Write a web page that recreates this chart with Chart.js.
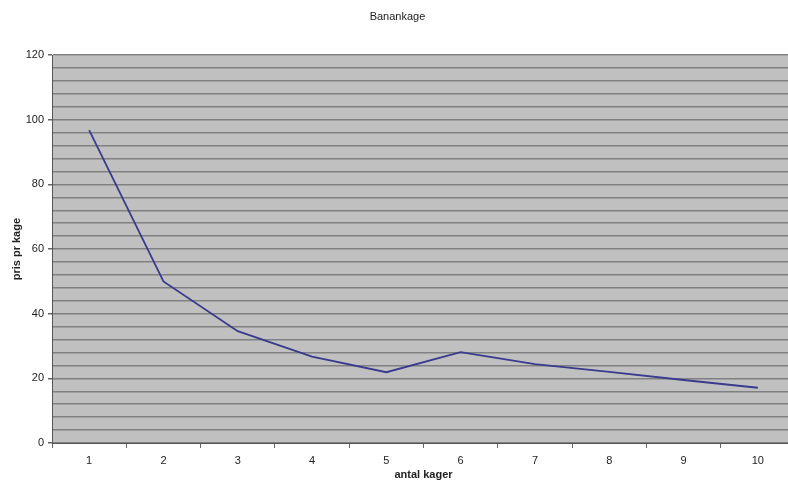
<!DOCTYPE html>
<html>
<head>
<meta charset="utf-8">
<script src="https://cdn.jsdelivr.net/npm/chart.js@4"></script>
<style>
  html, body { margin: 0; padding: 0; overflow: hidden; background: #fff; }
  #wrap { width: 795px; height: 486px; }
</style>
</head>
<body>
<div id="wrap"><canvas id="myChart"></canvas></div>
<script>
const antalKager = ["1", "2", "3", "4", "5", "6", "7", "8", "9", "10"];
const prisPrKage = [96.8, 50, 34.6, 26.7, 21.9, 28.1, 24.4, 22.0, 19.5, 17.1];
const yTickLabels = [0, 20, 40, 60, 80, 100, 120];

const ctx = document.getElementById("myChart");

// grey plot area like the old excel chart
const plotBg = {
  id: "plotBg",
  beforeDraw(chart) {
    const a = chart.chartArea;
    const c = chart.ctx;
    c.save();
    c.fillStyle = "#c0c0c0";
    c.fillRect(a.left, a.top, a.right - a.left, a.bottom - a.top);
    c.restore();
  },
};

new Chart(ctx, {
  type: "line",
  data: {
    labels: antalKager,
    datasets: [
      {
        label: "pris pr kage",
        data: prisPrKage,
        borderColor: "#3a3a8e",
        borderWidth: 1.8,
        pointRadius: 0,
        tension: 0,
        fill: false,
      },
    ],
  },
  options: {
    responsive: true,
    maintainAspectRatio: false,
    animation: false,
    plugins: {
      legend: { display: false },
      tooltip: { enabled: false },
      title: {
        display: true,
        text: "Banankage",
        color: "#222",
        font: { family: "Liberation Sans, Arial", size: 11, weight: "normal" },
        padding: { top: 10, bottom: 32 },
      },
    },
    scales: {
      x: {
        offset: true,
        grid: {
          offset: true,
          drawOnChartArea: false,
          tickLength: 5,
          tickColor: "#666",
        },
        border: { color: "#555", width: 1 },
        ticks: {
          color: "#222",
          padding: 6,
          font: { family: "Liberation Sans, Arial", size: 11 },
        },
        title: {
          display: true,
          text: "antal kager",
          color: "#222",
          font: { family: "Liberation Sans, Arial", size: 11, weight: "bold" },
          padding: { top: 2, bottom: 4 },
        },
        afterFit(scale) {
          scale.height = 43;
        },
      },
      y: {
        min: 0,
        max: 120,
        grid: {
          color: "#808080",
          lineWidth: 1.5,
          tickLength: 4,
          tickColor: (c) => (c.tick && yTickLabels.includes(c.tick.value) ? "#666" : "rgba(0,0,0,0)"),
        },
        border: { color: "#555", width: 1 },
        ticks: {
          stepSize: 4,
          autoSkip: false,
          color: "#222",
          padding: 4,
          font: { family: "Liberation Sans, Arial", size: 11 },
          callback: (v) => (yTickLabels.includes(v) ? v : ""),
        },
        title: {
          display: true,
          text: "pris pr kage",
          color: "#222",
          font: { family: "Liberation Sans, Arial", size: 11, weight: "bold" },
          padding: { top: 10, bottom: 4 },
        },
        afterFit(scale) {
          scale.width = 52;
        },
      },
    },
  },
  plugins: [plotBg],
});
</script>
</body>
</html>
